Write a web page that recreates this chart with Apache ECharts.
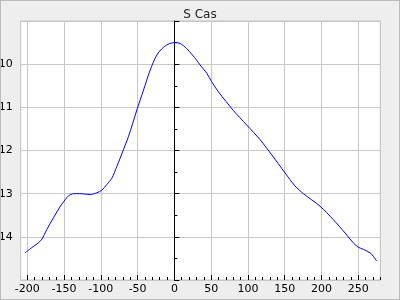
<!DOCTYPE html>
<html>
<head>
<meta charset="utf-8">
<script src="https://cdn.jsdelivr.net/npm/echarts@6/dist/echarts.min.js"></script>
<style>
html,body{margin:0;padding:0;background:#eeeeee;}
#wrap{width:400px;height:300px;box-sizing:border-box;border:1px solid #bbbbbb;background:#eeeeee;}
#c{width:398px;height:298px;}
</style>
</head>
<body>
<div id="wrap"><div id="c"></div></div>
<script>
const titleText = 'S Cas';
const phase = [-203, -194, -185, -180, -173.5, -164.5, -155, -148.6, -144, -137, -129, -121, -114.6, -105.5, -98.7, -92, -85, -78.3, -73.8, -69.3, -62.5, -51, -42, -33, -24, -15, -6, 1, 7.7, 16.8, 30.4, 35, 44, 50.8, 59.8, 70, 80, 98.4, 116.5, 132.4, 150.5, 164, 175.4, 198, 216, 232, 243.3, 250, 257, 266, 270.5, 275];
const mag = [14.37, 14.25, 14.14, 14.05, 13.83, 13.56, 13.29, 13.14, 13.05, 13.0, 13.0, 13.01, 13.02, 12.98, 12.92, 12.79, 12.64, 12.37, 12.18, 11.98, 11.68, 11.06, 10.6, 10.14, 9.79, 9.61, 9.52, 9.50, 9.52, 9.64, 9.91, 10.02, 10.21, 10.41, 10.64, 10.86, 11.07, 11.41, 11.75, 12.1, 12.52, 12.82, 13.0, 13.29, 13.6, 13.91, 14.14, 14.24, 14.29, 14.37, 14.45, 14.56];
const xMajorTicks = [-200, -150, -100, -50, 0, 50, 100, 150, 200, 250];
const xMinorTicks = [-200, -190, -180, -170, -160, -150, -140, -130, -120, -110, -100, -90, -80, -70, -60, -50, -40, -30, -20, -10, 0, 10, 20, 30, 40, 50, 60, 70, 80, 90, 100, 110, 120, 130, 140, 150, 160, 170, 180, 190, 200, 210, 220, 230, 240, 250, 260, 270, 280];

const XMIN = -209, XMAX = 280;
const chart = echarts.init(document.getElementById('c'));
const font = 'DejaVu Sans';
chart.setOption({
  backgroundColor: '#eeeeee',
  animation: false,
  title: {
    text: titleText, left: 'center', top: 3,
    textStyle: {fontFamily: font, fontSize: 12, fontWeight: 'normal', color: '#222'}
  },
  grid: {
    left: 19.7, right: 18.7, top: 20, bottom: 19,
    containLabel: false, outerBoundsMode: 'none',
    show: true, backgroundColor: '#ffffff', borderColor: '#c0c0c0', borderWidth: 1
  },
  xAxis: [{
    type: 'value', min: XMIN, max: XMAX, position: 'bottom',
    axisLine: {show: false, onZero: false},
    axisTick: {show: true, inside: true, length: 5, customValues: xMajorTicks, lineStyle: {color: '#000'}},
    axisLabel: {customValues: xMajorTicks, color: '#000', fontFamily: font, fontSize: 11, margin: 4},
    splitLine: {show: true, lineStyle: {color: '#c8c8c8', width: 1}}
  }, {
    type: 'value', min: XMIN, max: XMAX, position: 'bottom',
    axisLine: {show: false, onZero: false},
    axisTick: {show: true, inside: true, length: 3, customValues: xMinorTicks, lineStyle: {color: '#000'}},
    axisLabel: {show: false},
    splitLine: {show: false}
  }],
  yAxis: {
    type: 'value', inverse: true, min: 9, max: 15, interval: 1,
    axisLine: {show: true, onZero: true, onZeroAxisIndex: 0, lineStyle: {color: '#000', width: 1}},
    axisTick: {show: true, inside: true, length: 5, lineStyle: {color: '#000'}},
    minorTick: {show: true, splitNumber: 2, length: 3, lineStyle: {color: '#000'}},
    axisLabel: {showMinLabel: false, showMaxLabel: false, color: '#000', fontFamily: font, fontSize: 11, margin: 8},
    splitLine: {show: true, lineStyle: {color: '#c8c8c8', width: 1}}
  },
  series: [{
    type: 'line', xAxisIndex: 0,
    data: phase.map((p, i) => [p, mag[i]]),
    showSymbol: false, symbol: 'none', smooth: 0.3,
    lineStyle: {color: '#0000ff', width: 1}
  }]
});
</script>
</body>
</html>
